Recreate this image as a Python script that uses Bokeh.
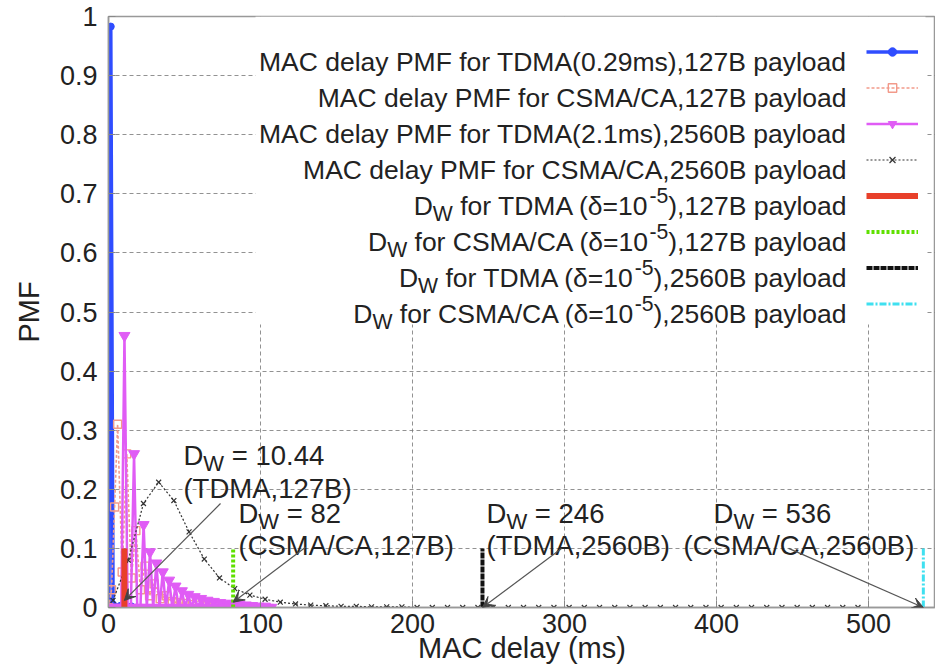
from bokeh.plotting import figure
from bokeh.models import (Range1d, FixedTicker, NumeralTickFormatter, Label, Arrow, VeeHead,
                          Legend, LegendItem, BoxAnnotation)
from bokeh.embed import file_html
from bokeh.resources import INLINE

# ---------------- data ----------------
tdma127_x = [0.3, 1.5, 3.0, 8.0, 15.0]
tdma127_y = [0.01, 0.983, 0.005, 0.003, 0.002]

csma127_x = [0, 2, 4, 6, 9, 12, 15, 18, 21, 24, 27, 30, 34, 38, 42, 46, 50, 55, 60, 65, 70, 75, 80]
csma127_y = [0.0, 0.03, 0.17, 0.31, 0.06, 0.26, 0.05, 0.13, 0.03, 0.07, 0.02, 0.04, 0.015, 0.02,
             0.01, 0.008, 0.007, 0.005, 0.004, 0.003, 0.002, 0.002, 0.001]

tdma2560_x = [0.0, 2.1, 4.2, 6.3, 8.4, 10.5, 12.6, 14.7, 16.8, 18.9, 21.0, 23.1, 25.2, 27.3, 29.4,
              31.5, 33.6, 35.7, 37.8, 39.9, 42.0, 44.1, 46.2, 48.3, 50.4, 52.5, 54.6, 56.7, 58.8,
              60.9, 63.0, 65.1, 67.2, 69.3, 71.4, 73.5, 75.6, 77.7, 79.8, 81.9, 84.0, 86.1, 88.2,
              90.3, 92.4, 94.5, 96.6, 98.7, 100.8, 102.9, 105.0, 107.1]
tdma2560_y = [0.0, 0.0, 0.0, 0.0, 0.0, 0.46, 0.0, 0.0, 0.26, 0.0, 0.0, 0.14, 0.0, 0.094, 0.0,
              0.075, 0.0, 0.06, 0.0, 0.046, 0.0, 0.036, 0.0, 0.028, 0.0, 0.022, 0.0, 0.018, 0.0,
              0.015, 0.0, 0.012, 0.0, 0.01, 0.0, 0.008, 0.0, 0.007, 0.0, 0.006, 0.0, 0.005, 0.0,
              0.004, 0.0, 0.003, 0.0, 0.002, 0.0, 0.002, 0.0, 0.0]

csma2560_x = [3, 13, 23, 33, 43, 53, 63, 73, 83, 93, 103, 113, 123, 133, 143, 153, 163, 173, 183,
              193, 203, 213, 223, 233, 243, 253, 263, 273, 283, 293, 303, 313, 323, 333, 343, 353,
              363, 373, 383, 393, 403, 413, 423, 433, 443, 453, 463, 473, 483, 493]
csma2560_y = [0.012, 0.08, 0.176, 0.212, 0.181, 0.128, 0.082, 0.05, 0.032, 0.021, 0.014, 0.009,
              0.006, 0.004, 0.003, 0.002, 0.002, 0.001, 0.001, 0.001, 0.0, 0.0, 0.0, 0.0, 0.0,
              0.0, 0.0, 0.0, 0.0, 0.0, 0.0, 0.0, 0.0, 0.0, 0.0, 0.0, 0.0, 0.0, 0.0, 0.0, 0.0,
              0.0, 0.0, 0.0, 0.0, 0.0, 0.0, 0.0, 0.0, 0.0]

# worst-case delay bounds D_W (ms) and their marker height
dw_values = [10.44, 82, 246, 536]
dw_height = 0.1
dw_cases = ["(TDMA,127B)", "(CSMA/CA,127B)", "(TDMA,2560B)", "(CSMA/CA,2560B)"]

x_ticks = [0, 100, 200, 300, 400, 500]
y_ticks = [0, 0.1, 0.2, 0.3, 0.4, 0.5, 0.6, 0.7, 0.8, 0.9, 1.0]
x_title = "MAC delay (ms)"
y_title = "PMF"

legend_rows = [
    [("MAC delay PMF for TDMA(0.29ms),127B payload", "n")],
    [("MAC delay PMF for CSMA/CA,127B payload", "n")],
    [("MAC delay PMF for TDMA(2.1ms),2560B payload", "n")],
    [("MAC delay PMF for CSMA/CA,2560B payload", "n")],
    [("D", "n"), ("W", "sub"), (" for TDMA (δ=10", "n"), ("-5", "sup"), ("),127B payload", "n")],
    [("D", "n"), ("W", "sub"), (" for CSMA/CA (δ=10", "n"), ("-5", "sup"), ("),127B payload", "n")],
    [("D", "n"), ("W", "sub"), (" for TDMA (δ=10", "n"), ("-5", "sup"), ("),2560B payload", "n")],
    [("D", "n"), ("W", "sub"), (" for CSMA/CA (δ=10", "n"), ("-5", "sup"), ("),2560B payload", "n")],
]

# ---------------- layout / style ----------------
FONT = "Liberation Sans"
TXT = "#222222"
C_BLUE = "#2f4dff"
C_SALMON = "#f29a8a"
C_MAG = "#e05cf5"
C_BLACK = "#333333"
C_RED = "#e8402a"
C_GREEN = "#5fe000"
C_DKB = "#111111"
C_CYAN = "#3fe0f0"

AW = {' ': 278, '(': 333, ')': 333, ',': 278, '.': 278, '/': 278, '=': 584, '-': 333,
      '0': 556, '1': 556, '2': 556, '3': 556, '4': 556, '5': 556, '6': 556, '7': 556, '8': 556,
      '9': 556, 'A': 667, 'B': 667, 'C': 722, 'D': 722, 'F': 611, 'M': 833, 'P': 667, 'S': 667,
      'T': 611, 'W': 944, 'a': 556, 'd': 556, 'e': 556, 'f': 278, 'l': 222, 'm': 833, 'o': 556,
      'p': 556, 'r': 333, 's': 500, 'y': 500, 'δ': 556}


def tw(s, fs):
    return sum(AW.get(c, 556) for c in s) / 1000.0 * fs


FRAME_L, FRAME_T, FRAME_W, FRAME_H = 108, 16, 827, 591

p = figure(width=FRAME_L + FRAME_W, height=667, x_range=Range1d(0, 544), y_range=Range1d(0, 1),
           output_backend="svg", toolbar_location=None,
           min_border_left=FRAME_L, min_border_right=0, min_border_top=FRAME_T,
           min_border_bottom=60)
p.background_fill_color = "white"
p.border_fill_color = "white"
p.outline_line_color = "#999999"
p.outline_line_width = 1.5

p.xaxis.ticker = FixedTicker(ticks=x_ticks)
p.yaxis.ticker = FixedTicker(ticks=y_ticks)
p.yaxis.formatter = NumeralTickFormatter(format="0.[0]")
p.xaxis.axis_label = x_title
p.yaxis.axis_label = y_title
for ax in (p.xaxis, p.yaxis):
    ax.axis_label_text_font = FONT
    ax.axis_label_text_font_style = "normal"
    ax.axis_label_text_font_size = "29px"
    ax.axis_label_text_color = TXT
    ax.major_label_text_font = FONT
    ax.major_label_text_font_size = "27px"
    ax.major_label_text_color = TXT
    ax.major_tick_in = 7
    ax.major_tick_out = 0
    ax.major_tick_line_color = "#888888"
    ax.minor_tick_line_color = None
    ax.axis_line_color = "#999999"
    ax.axis_line_width = 1.5
p.xaxis.major_label_standoff = 6
p.xaxis.axis_label_standoff = -4
p.yaxis.major_label_standoff = 11
p.yaxis.axis_label_standoff = 12

for g in (p.xgrid, p.ygrid):
    g.grid_line_color = "#777777"
    g.grid_line_dash = "4 3"
    g.grid_line_width = 1
    g.grid_line_alpha = 0.8

# opaque key area (hides grid behind the key)
p.add_layout(BoxAnnotation(left=147, right=817, bottom=283, top=FRAME_H,
                           left_units="screen", right_units="screen",
                           bottom_units="screen", top_units="screen",
                           fill_color="white", fill_alpha=1.0, line_alpha=0,
                           level="underlay"))

# ---------------- series ----------------
r1l = p.line(tdma127_x, tdma127_y, line_color=C_BLUE, line_width=3.5)
r1m = p.scatter(tdma127_x, tdma127_y, marker="circle", size=7, color=C_BLUE)

r2l = p.line(csma127_x, csma127_y, line_color=C_SALMON, line_width=1.6, line_dash="3 2")
r2m = p.scatter(csma127_x, csma127_y, marker="square", size=8, line_color=C_SALMON,
                fill_color=None, line_width=1.4)

r3l = p.line(tdma2560_x, tdma2560_y, line_color=C_MAG, line_width=2.5)
r3m = p.scatter(tdma2560_x, tdma2560_y, marker="inverted_triangle", size=11, color=C_MAG)

r4l = p.line(csma2560_x, csma2560_y, line_color=C_BLACK, line_width=1.2, line_dash="2 2")
r4m = p.scatter(csma2560_x, csma2560_y, marker="x", size=7, line_color=C_BLACK, line_width=1.2)

dw_styles = [
    dict(line_color=C_RED, line_width=6),
    dict(line_color=C_GREEN, line_width=4, line_dash="3 2"),
    dict(line_color=C_DKB, line_width=4, line_dash="6 1"),
    dict(line_color=C_CYAN, line_width=3, line_dash="7 2 2 2"),
]
dw_renderers = []
for v, st in zip(dw_values, dw_styles):
    dw_renderers.append(p.line([v, v], [0, dw_height], **st))

# ---------------- key (samples on the right, text right-aligned) ----------------
items = [LegendItem(label=" ", renderers=[r1l, r1m]),
         LegendItem(label=" ", renderers=[r2l, r2m]),
         LegendItem(label=" ", renderers=[r3l, r3m]),
         LegendItem(label=" ", renderers=[r4l, r4m])] + \
        [LegendItem(label=" ", renderers=[r]) for r in dw_renderers]
ROW0, PITCH, GH = 35.5, 36, 21
leg_h = 8 * GH + 7 * (PITCH - GH)
leg_top = ROW0 - GH / 2
legend = Legend(items=items, location=(758, FRAME_H - leg_top - leg_h), orientation="vertical",
                glyph_width=52, glyph_height=GH, label_height=GH, label_width=1,
                spacing=PITCH - GH, padding=0, margin=0, label_standoff=0,
                label_text_font_size="8px", border_line_alpha=0, background_fill_alpha=0)
p.add_layout(legend)


def add_piece(x, y, s, fs, units, x_off=0.0, y_off=0.0):
    lead = len(s) - len(s.lstrip(" "))
    x_off += tw(" " * lead, fs)
    s = s.lstrip(" ")
    p.add_layout(Label(x=x, y=y, x_units=units, y_units=units, x_offset=x_off, y_offset=y_off,
                       text=s, text_font=FONT, text_font_size=f"{fs:.2f}px", text_color=TXT,
                       text_align="left", text_baseline="alphabetic"))


LFS = 26.5
RIGHT = 738
for i, row in enumerate(legend_rows):
    c = ROW0 + PITCH * i
    base = FRAME_H - c - 0.36 * LFS
    total = sum(tw(s, LFS * (0.8 if k != "n" else 1.0)) for s, k in row)
    x = RIGHT - total
    for s, k in row:
        fs = LFS * (0.8 if k != "n" else 1.0)
        dy = {"n": 0, "sub": -0.3 * LFS, "sup": 0.38 * LFS}[k]
        add_piece(x, base + dy, s, fs, "screen")
        x += tw(s, fs)

# ---------------- D_W annotations ----------------
AFS = 27.5
ann_x1 = [49.3, 85.5, 248.7, 398.0]
ann_y1 = [0.257, 0.159, 0.159, 0.159]
ann_x2 = [49.3, 85.5, 248.7, 378.3]
ann_y2 = [0.201, 0.105, 0.105, 0.105]
arrow_tail_x = [73.7, 129.6, 298.0, 447.4]
arrow_tail_y = [0.176, 0.102, 0.1, 0.1]
arrow_tip_y = [0.012, 0.009, 0.0, 0.0]

for v, x1, y1, x2, y2, case in zip(dw_values, ann_x1, ann_y1, ann_x2, ann_y2, dw_cases):
    pieces = [("D", AFS, 0), ("W", AFS * 0.8, -0.3 * AFS), (f" = {v:g}", AFS, 0)]
    off = 0
    for s, fs, dy in pieces:
        add_piece(x1, y1, s, fs, "data", x_off=off, y_off=dy)
        off += tw(s, fs)
    add_piece(x2, y2, case, AFS, "data")

for v, tx, ty, hy in zip(dw_values, arrow_tail_x, arrow_tail_y, arrow_tip_y):
    p.add_layout(Arrow(end=VeeHead(size=11, fill_color="#444444", line_color="#444444",
                                   line_width=1),
                       x_start=tx, y_start=ty, x_end=v, y_end=hy,
                       line_color="#555555", line_width=1.2))

open("out.html", "w").write(file_html(p, INLINE))
